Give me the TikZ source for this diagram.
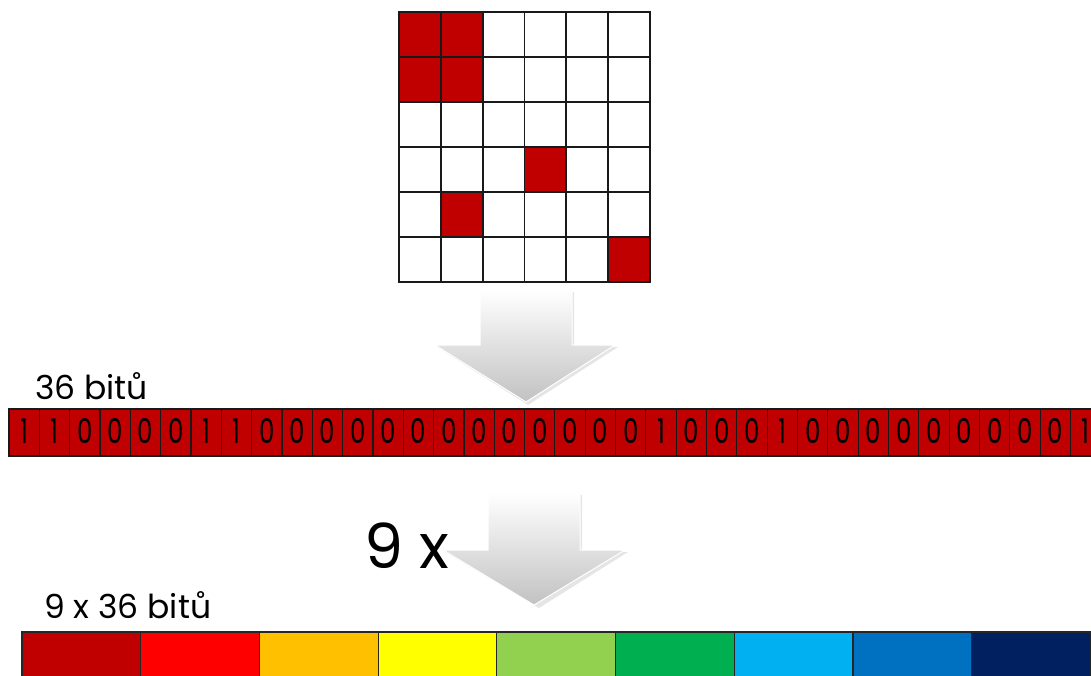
\documentclass[tikz,border=0pt]{standalone}
\usepackage{fontspec}
\setmainfont{Poppins}

\begin{document}
\begin{tikzpicture}[x=1pt,y=-1pt]
    % Define colours
    \definecolor{bitRed}{HTML}{C00000}
    \definecolor{barRed}{HTML}{FF0000}
    \definecolor{barOrange}{HTML}{FFC000}
    \definecolor{barYellow}{HTML}{FFFF00}
    \definecolor{barLime}{HTML}{92D050}
    \definecolor{barGreen}{HTML}{00B050}
    \definecolor{barSky}{HTML}{00B0F0}
    \definecolor{barBlue}{HTML}{0070C0}
    \definecolor{barNavy}{HTML}{002060}

    % Define styles
    \tikzset{
        gridLine/.style={line width=1.8pt, black!90, line cap=rect},
        bitCell/.style={fill=bitRed, draw=black!90, line width=1.1pt},
        bitText/.style={anchor=base, inner sep=0pt, xscale=0.72, font=\fontsize{34}{34}\selectfont},
        labelText/.style={anchor=base west, inner sep=0pt, font=\fontsize{33}{33}\selectfont},
        bigArrow/.style={top color=white, bottom color=black!24, draw=white, line width=1pt},
        arrowShadow/.style={fill=black!10},
        barCell/.style={draw=black!85, line width=1.2pt}
    }

    % Define sizes
    \def\gridX{399}
    \def\gridY{11.7}
    \def\cellW{41.8}
    \def\cellH{45}
    \def\bitW{30.33}
    \def\barW{118.7}

    \useasboundingbox (0,0) rectangle (1091,675);
    \clip (0,0) rectangle (1091,675);

    % Fill the set cells of the grid
    \foreach \r/\c in {1/1,1/2,2/1,2/2,4/4,5/2,6/6}
        \fill[bitRed] ({\gridX+(\c-1)*\cellW},{\gridY+(\r-1)*\cellH}) rectangle ++(\cellW,\cellH);

    % Draw grid lines
    \foreach \i in {0,...,6} {
        \draw[gridLine] ({\gridX+\i*\cellW},\gridY) -- ({\gridX+\i*\cellW},{\gridY+6*\cellH});
        \draw[gridLine] (\gridX,{\gridY+\i*\cellH}) -- ({\gridX+6*\cellW},{\gridY+\i*\cellH});
    }

    % First arrow
    \fill[arrowShadow] (482,292) -- (574,292) -- (574,347) -- (618,347) -- (528,405) -- (437,347) -- (482,347) -- cycle;
    \shade[bigArrow] (480,290) -- (572,290) -- (572,345) -- (615,345) -- (526,402) -- (435,345) -- (480,345) -- cycle;

    % Label of the bit string
    \node[labelText] (bitsLabel) at (35,399) {36 bitů};

    % Draw the bit string
    \foreach \b [count=\i from 0] in {1,1,0,0,0,0,1,1,0,0,0,0,0,0,0,0,0,0,0,0,0,1,0,0,0,1,0,0,0,0,0,0,0,0,0,1} {
        \draw[bitCell] ({9+\i*\bitW},409) rectangle ++(\bitW,47);
        \node[bitText] (bit\i) at ({9+(\i+0.5)*\bitW},443) {\b};
    }

    % Second arrow
    \fill[arrowShadow] (490,495) -- (582,495) -- (582,552) -- (628,552) -- (539,608) -- (445,552) -- (490,552) -- cycle;
    \shade[bigArrow] (488,493) -- (580,493) -- (580,550) -- (625,550) -- (534,605) -- (443,550) -- (488,550) -- cycle;
    \node[labelText, font=\fontsize{62}{62}\selectfont] (timesLabel) at (364,568) {9 x};

    % Label of the coloured bar
    \node[labelText, font=\fontsize{33}{33}\selectfont] (totalLabel) at (44,618) {9 x 36 bitů};

    % Draw the coloured bar
    \foreach \col [count=\i from 0] in {bitRed,barRed,barOrange,barYellow,barLime,barGreen,barSky,barBlue,barNavy}
        \filldraw[barCell, fill=\col] ({22+\i*\barW},632) rectangle ++(\barW,50);

\end{tikzpicture}
\end{document}
